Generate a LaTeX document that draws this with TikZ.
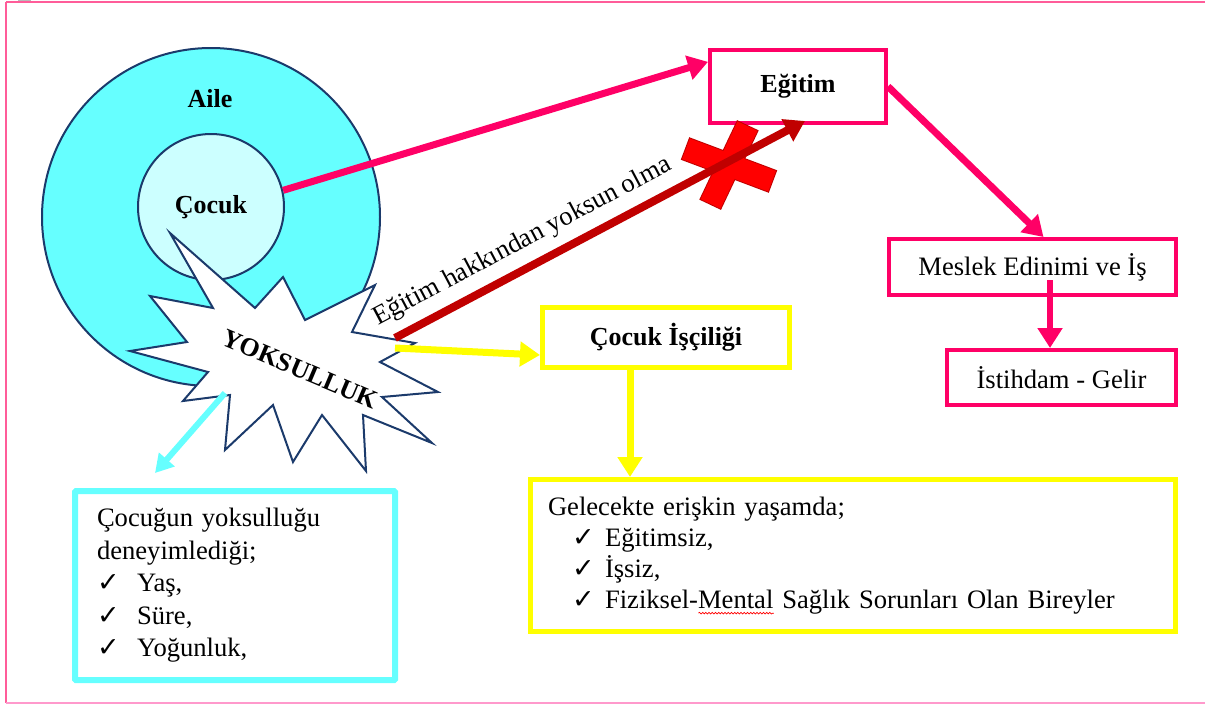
\documentclass[tikz,border=0pt]{standalone}
\usepackage{fontspec}
\setmainfont{Liberation Serif}
\newfontfamily\dejavu{DejaVu Sans}
\usetikzlibrary{arrows.meta,decorations.pathmorphing,calc}
\definecolor{pinkc}{HTML}{FF0066}
\definecolor{framec}{HTML}{FF5C99}
\definecolor{framelow}{HTML}{FF99CC}
\definecolor{cyanc}{HTML}{66FFFF}
\definecolor{lightcy}{HTML}{CCFFFF}
\definecolor{navyc}{HTML}{1B3A6B}
\definecolor{darkredc}{HTML}{C00000}
\definecolor{yelc}{HTML}{FFFF00}
\newlength\mwid
\newcommand\wavyul[1]{\settowidth\mwid{#1}\rlap{\tikz[baseline=0pt]\draw[red,line width=0.7pt,decorate,decoration={snake,amplitude=0.8pt,segment length=3.2pt}] (0pt,-5pt) -- (\mwid,-5pt);}#1}
\newcommand\chk{{\dejavu\fontsize{27}{27}\selectfont ✓}}
\begin{document}
\begin{tikzpicture}[x=1pt,y=-1pt,
  font=\fontsize{26.6}{32.5}\selectfont,
  pinkbox/.style={draw=pinkc,line width=4pt,inner sep=0pt,fill=white},
  yelbox/.style={draw=yelc,line width=5pt,inner sep=0pt,fill=white},
  cybox/.style={draw=cyanc,line width=6pt,inner sep=0pt,fill=white,rounded corners=1pt},
  circ/.style={circle,draw=navyc,line width=2pt,inner sep=0pt},
  pinkarrow/.style={draw=pinkc,line width=7pt,-{Triangle[length=20pt,width=24pt]}},
  yelarrow/.style={draw=yelc,line width=7pt,-{Triangle[length=20pt,width=24pt]}},
  redarrow/.style={draw=darkredc,line width=8pt,-{Triangle[length=20pt,width=24pt]}},
  cyarrow/.style={draw=cyanc,line width=6pt,-{Triangle[length=18pt,width=20pt]}},
  boldlbl/.style={font=\fontsize{26}{30}\selectfont\bfseries}]
\useasboundingbox (0,0) rectangle (1205,705);
% outer frame
\fill[gray!55] (18,0) rectangle (31,3);
\draw[framec,line width=2.5pt] (6,2) -- (1210,2);
\draw[framec,line width=1.2pt] (6,2) -- (6,703);
\draw[framelow,line width=1.5pt] (6,703) -- (1210,703);

% family circles
\node[circ,fill=cyanc,minimum size=338pt] (aile) at (211,217) {};
\node[boldlbl] (ailelbl) at (210,99) {Aile};
\node[circ,fill=lightcy,minimum size=146pt,boldlbl] (coc) at (211,207) {Çocuk};

% poverty star
\draw[navyc,line width=2pt,fill=white,line join=miter]
  (170,233) -- (255,308) -- (283,277) -- (305,320) -- (375,285) -- (352,332)
  -- (415,343) -- (380,362) -- (438,392) -- (382,397) -- (432,443) -- (363,415)
  -- (366,471) -- (322,415) -- (293,462) -- (273,405) -- (225,450) -- (230,395)
  -- (183,401) -- (208,372) -- (130,351) -- (187,342) -- (150,296) -- (213,308) -- cycle;
\node[boldlbl,rotate=-23] (yok) at (300,369) {YOKSULLUK};
\coordinate (s1) at (395,338);
\coordinate (s2) at (395,348);
\coordinate (sc) at (225,393);
\coordinate (ct) at (155,473);

% boxes
\node[pinkbox,minimum width=176pt,minimum height=73pt,boldlbl] (egt) at (798,86.5) {Eğitim};
\node[pinkbox,minimum width=287pt,minimum height=56pt] (mes) at (1032.5,267) {Meslek Edinimi ve İş};
\node[pinkbox,minimum width=229pt,minimum height=55pt] (ist) at (1061.5,377.5) {İstihdam - Gelir};
\node[yelbox,minimum width=247pt,minimum height=60pt,boldlbl] (cil) at (666,337.5) {Çocuk İşçiliği};
\node[yelbox,minimum width=645pt,minimum height=152pt,text width=610pt,align=left,
  font=\fontsize{26.6}{31}\selectfont] (gel) at (853,555.5)
  {Gelecekte erişkin yaşamda;\\
   \makebox[57pt][l]{\hspace{24pt}\chk}Eğitimsiz,\\
   \makebox[57pt][l]{\hspace{24pt}\chk}İşsiz,\\
   \makebox[57pt][l]{\hspace{24pt}\chk}Fiziksel-\wavyul{Mental} Sağlık Sorunları Olan Bireyler};
\node[cybox,minimum width=320pt,minimum height=189pt,text width=276pt,align=left] (cyb) at (235,585.5)
  {Çocuğun yoksulluğu\\
   deneyimlediği;\\
   \makebox[40pt][l]{\chk}Yaş,\\
   \makebox[40pt][l]{\chk}Süre,\\
   \makebox[40pt][l]{\chk}Yoğunluk,};

% connectors
\draw[pinkarrow] (coc.13) -- ($(egt.north west)!0.18!(egt.south west)$);
\draw[pinkarrow] (egt.east) -- ([xshift=11pt]mes.north);
\coordinate (m1) at ([xshift=17.5pt,yshift=-13pt]mes.center);
\draw[pinkarrow,line width=6pt] (m1) -- (m1 |- ist.north);

% red cross
\begin{scope}[shift={(729,165)}]
  \draw[darkredc,line width=2pt,rotate=-20.6] (-46pt,-11pt) rectangle (46pt,11pt);
  \draw[darkredc,line width=2pt,rotate=64.6] (-43pt,-11pt) rectangle (43pt,11pt);
  \fill[red,rotate=-20.6] (-46pt,-11pt) rectangle (46pt,11pt);
  \fill[red,rotate=64.6] (-43pt,-11pt) rectangle (43pt,11pt);
\end{scope}
\draw[redarrow] (s1) -- node[sloped,above=6pt,pos=0.34] (lbl) {Eğitim hakkından yoksun olma} ([xshift=7pt,yshift=4pt]egt.south);

\draw[yelarrow] (s2) -- ([yshift=-17.5pt]cil.west);
\coordinate (y1) at ([xshift=-36pt]cil.south);
\draw[yelarrow] (y1) -- (y1 |- gel.north);
\draw[cyarrow] (sc) -- (ct);
\end{tikzpicture}
\end{document}
